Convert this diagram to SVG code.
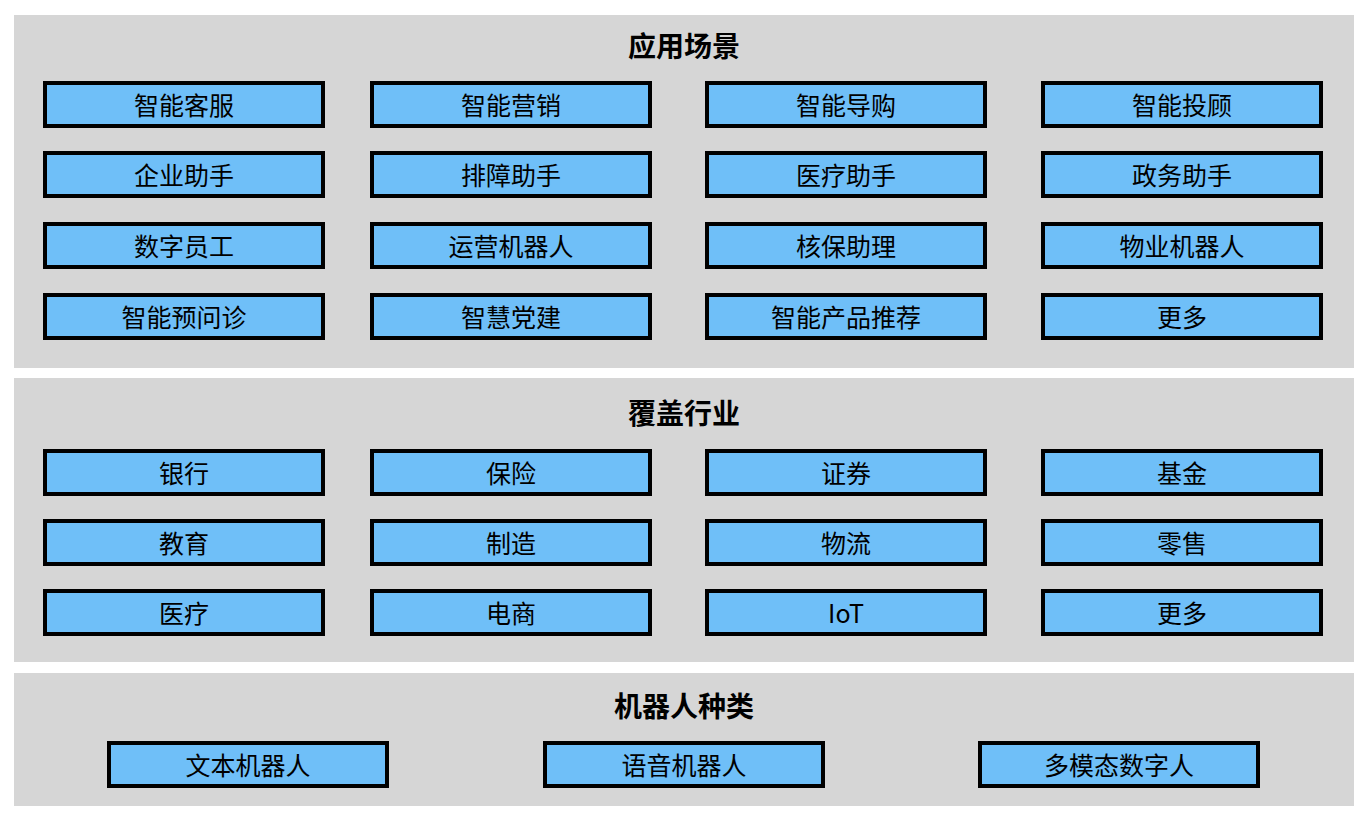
<svg xmlns="http://www.w3.org/2000/svg" width="1366" height="824" viewBox="0 0 1366 824">
<style>
.p{fill:#d6d6d6}
.b rect{fill:#6fbff8;stroke:#000;stroke-width:4}
text{font-family:"Noto Sans CJK SC","Liberation Sans",sans-serif;text-anchor:middle;dominant-baseline:central;fill:#000}
.b text{font-size:25px}
.t{font-size:28px;font-weight:bold}
</style>
<rect width="1366" height="824" fill="#fff"/>
<g id="panel-scenes"><rect class="p" x="14" y="15" width="1340" height="353"/><text class="t" x="684" y="45">应用场景</text></g>
<g id="panel-industry"><rect class="p" x="14" y="378" width="1340" height="284"/><text class="t" x="684" y="412">覆盖行业</text></g>
<g id="panel-types"><rect class="p" x="14" y="673" width="1340" height="133"/><text class="t" x="684" y="705">机器人种类</text></g>
<g class="b">
<g id="n1"><rect x="45" y="83" width="278" height="43"/><text x="184" y="104">智能客服</text></g>
<g id="n2"><rect x="372" y="83" width="278" height="43"/><text x="511" y="104">智能营销</text></g>
<g id="n3"><rect x="707" y="83" width="278" height="43"/><text x="846" y="104">智能导购</text></g>
<g id="n4"><rect x="1043" y="83" width="278" height="43"/><text x="1182" y="104">智能投顾</text></g>
<g id="n5"><rect x="45" y="153" width="278" height="43"/><text x="184" y="174">企业助手</text></g>
<g id="n6"><rect x="372" y="153" width="278" height="43"/><text x="511" y="174">排障助手</text></g>
<g id="n7"><rect x="707" y="153" width="278" height="43"/><text x="846" y="174">医疗助手</text></g>
<g id="n8"><rect x="1043" y="153" width="278" height="43"/><text x="1182" y="174">政务助手</text></g>
<g id="n9"><rect x="45" y="224" width="278" height="43"/><text x="184" y="245">数字员工</text></g>
<g id="n10"><rect x="372" y="224" width="278" height="43"/><text x="511" y="245">运营机器人</text></g>
<g id="n11"><rect x="707" y="224" width="278" height="43"/><text x="846" y="245">核保助理</text></g>
<g id="n12"><rect x="1043" y="224" width="278" height="43"/><text x="1182" y="245">物业机器人</text></g>
<g id="n13"><rect x="45" y="295" width="278" height="43"/><text x="184" y="316">智能预问诊</text></g>
<g id="n14"><rect x="372" y="295" width="278" height="43"/><text x="511" y="316">智慧党建</text></g>
<g id="n15"><rect x="707" y="295" width="278" height="43"/><text x="846" y="316">智能产品推荐</text></g>
<g id="n16"><rect x="1043" y="295" width="278" height="43"/><text x="1182" y="316">更多</text></g>
<g id="i1"><rect x="45" y="451" width="278" height="43"/><text x="184" y="472">银行</text></g>
<g id="i2"><rect x="372" y="451" width="278" height="43"/><text x="511" y="472">保险</text></g>
<g id="i3"><rect x="707" y="451" width="278" height="43"/><text x="846" y="472">证券</text></g>
<g id="i4"><rect x="1043" y="451" width="278" height="43"/><text x="1182" y="472">基金</text></g>
<g id="i5"><rect x="45" y="521" width="278" height="43"/><text x="184" y="542">教育</text></g>
<g id="i6"><rect x="372" y="521" width="278" height="43"/><text x="511" y="542">制造</text></g>
<g id="i7"><rect x="707" y="521" width="278" height="43"/><text x="846" y="542">物流</text></g>
<g id="i8"><rect x="1043" y="521" width="278" height="43"/><text x="1182" y="542">零售</text></g>
<g id="i9"><rect x="45" y="591" width="278" height="43"/><text x="184" y="612">医疗</text></g>
<g id="i10"><rect x="372" y="591" width="278" height="43"/><text x="511" y="612">电商</text></g>
<g id="i11"><rect x="707" y="591" width="278" height="43"/><text x="846" y="612">IoT</text></g>
<g id="i12"><rect x="1043" y="591" width="278" height="43"/><text x="1182" y="612">更多</text></g>
<g id="r1"><rect x="109" y="743" width="278" height="43"/><text x="248" y="764">文本机器人</text></g>
<g id="r2"><rect x="545" y="743" width="278" height="43"/><text x="684" y="764">语音机器人</text></g>
<g id="r3"><rect x="980" y="743" width="278" height="43"/><text x="1119" y="764">多模态数字人</text></g>
</g>
<g id="connectors"/>
</svg>
